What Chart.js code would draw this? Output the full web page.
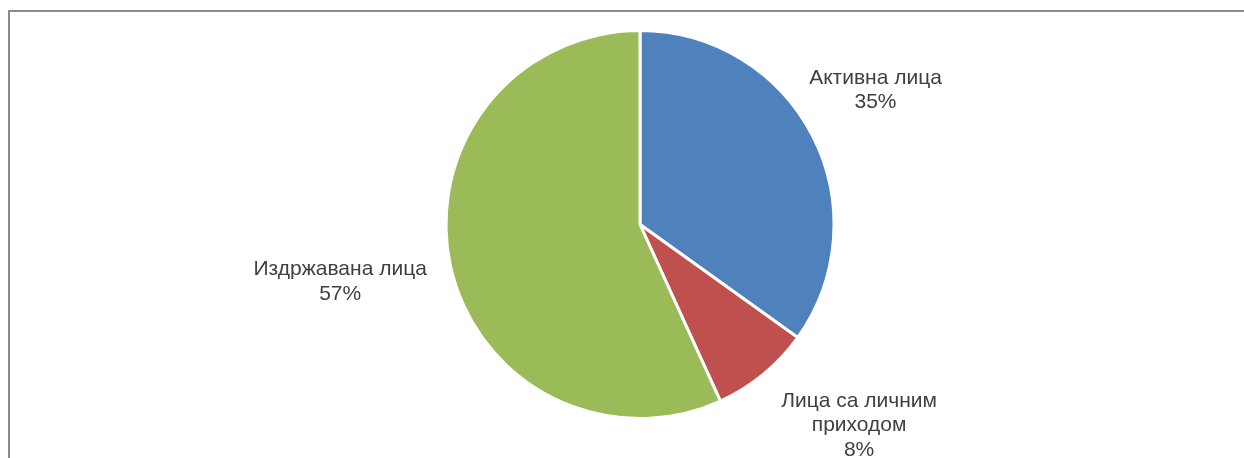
<!DOCTYPE html>
<html>
<head>
<meta charset="utf-8">
<script src="https://cdn.jsdelivr.net/npm/chart.js@4"></script>
<style>
  html, body { margin: 0; padding: 0; background: #fff; }
  #wrap { position: relative; width: 1244px; height: 458px; overflow: hidden; }
  #frame {
    position: absolute; left: 8px; top: 10px; width: 1300px; height: 500px;
    border-top: 2px solid #8a8a8a; border-left: 2px solid #8a8a8a;
    box-sizing: border-box;
  }
  canvas { position: absolute; left: 0; top: 0; }
</style>
</head>
<body>
<div id="wrap">
  <div id="frame"></div>
  <canvas id="chartPie" width="1244" height="458"></canvas>
</div>
<script>
const categories = [['Активна лица'], ['Лица са личним', 'приходом'], ['Издржавана лица']];
const shares = [34.9, 8.3, 56.8];
const sliceColors = ['#4f81bd', '#c0504d', '#9bbb59'];

// where each label sits: distance as a multiple of the radius, and turn (deg) from mid-angle
const labelPlacement = [
  { dist: 1.40, turn: -2.7 },
  { dist: 1.529, turn: -8.2 },
  { dist: 1.572, turn: 1.7 }
];

const total = shares.reduce((a, b) => a + b, 0);

const outsideLabels = {
  id: 'outsideLabels',
  afterDatasetsDraw(chart) {
    const ctx = chart.ctx;
    const meta = chart.getDatasetMeta(0);
    ctx.save();
    ctx.font = '21px "Liberation Sans", Arial, sans-serif';
    ctx.fillStyle = '#404040';
    ctx.textAlign = 'center';
    ctx.textBaseline = 'alphabetic';
    meta.data.forEach((arc, i) => {
      const p = labelPlacement[i];
      const mid = (arc.startAngle + arc.endAngle) / 2 + p.turn * Math.PI / 180;
      const r = arc.outerRadius * p.dist;
      const cx = arc.x + Math.cos(mid) * r;
      const cy = arc.y + Math.sin(mid) * r;
      const lines = categories[i].concat([Math.round(shares[i] / total * 100) + '%']);
      const lh = 24.5;
      lines.forEach((t, j) => {
        ctx.fillText(t, cx, cy - (lines.length - 1) * lh / 2 + j * lh + 7);
      });
    });
    ctx.restore();
  }
};

function initChart() {
  const el = document.getElementById('chartPie');
  new Chart(el, {
    type: 'pie',
    data: {
      labels: categories.map(c => c.join(' ')),
      datasets: [{
        data: shares,
        backgroundColor: sliceColors,
        borderColor: '#ffffff',
        borderWidth: 3
      }]
    },
    options: {
      responsive: false,
      animation: false,
      layout: { padding: { left: 36, right: 0, top: 29, bottom: 38 } },
      plugins: {
        legend: { display: false },
        tooltip: { enabled: false }
      }
    },
    plugins: [outsideLabels]
  });
}

document.addEventListener('DOMContentLoaded', initChart);
</script>
</body>
</html>
